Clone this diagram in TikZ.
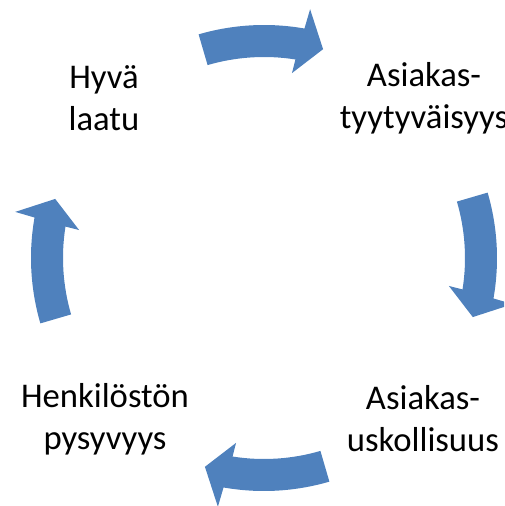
\documentclass[tikz,border=0pt]{standalone}
\usepackage{fontspec}
\setmainfont{Carlito}
\definecolor{arrowblue}{HTML}{4F81BD}
\begin{document}
\begin{tikzpicture}[x=0.75pt,y=0.75pt,
  lbl/.style={align=center,font=\fontsize{26}{31.5}\selectfont,text=black,inner sep=0pt},
  cyc/.style={fill=arrowblue,draw=none}]
\useasboundingbox (-264,-248) rectangle (240,258);
\clip (-264,-248) rectangle (240,258);
\foreach \c in {90,0,-90,-180} {
  \fill[cyc] ({\c+16.3}:201) arc[start angle=\c+16.3, end angle=\c-9, radius=201]
     -- ({\c-8.6}:187) -- ({\c-15.8}:217) -- ({\c-10.5}:253) -- ({\c-10}:233)
     arc[start angle=\c-10, end angle=\c+16.3, radius=233] -- cycle;
}
\node[lbl] (q) at (-160,160) {Hyvä\\laatu};
\node[lbl] (s) at (160,160) {Asiakas-\\tyytyväisyys};
\node[lbl] (u) at (159,-161) {Asiakas-\\uskollisuus};
\node[lbl] (p) at (-159,-161) {Henkilöstön\\pysyvyys};
\end{tikzpicture}
\end{document}
